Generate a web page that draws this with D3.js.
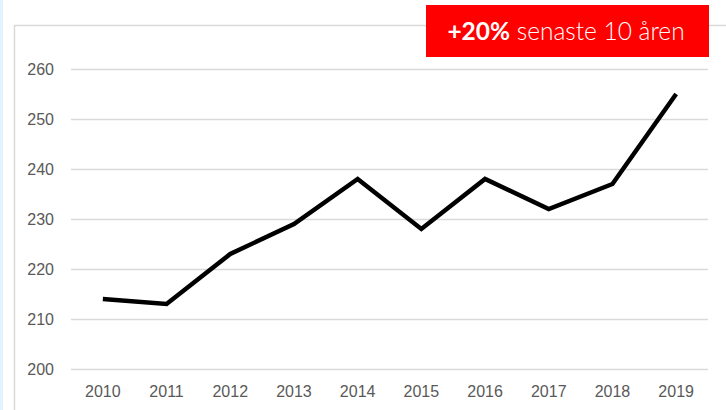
<!DOCTYPE html>
<html>
<head>
<meta charset="utf-8">
<script src="https://cdn.jsdelivr.net/npm/d3@7"></script>
<style>
  body { margin: 0; background: #fff; }
  .tick text { font-family: "Liberation Sans", Arial, sans-serif; fill: #595959; }
</style>
</head>
<body>
<div id="chart"></div>
<script>
var years = ["2010", "2011", "2012", "2013", "2014", "2015", "2016", "2017", "2018", "2019"];
var values = [214, 213, 223, 229, 238, 228, 238, 232, 237, 255];
var yTicks = [200, 210, 220, 230, 240, 250, 260];
var badgeBold = "+20%";
var badgeText = " senaste 10 åren";

var svgWidth = 726;
var svgHeight = 410;

var svg = d3.select("#chart")
  .append("svg")
  .attr("width", svgWidth)
  .attr("height", svgHeight);

// light blue strip on the left and the chart frame
svg.append("rect")
  .attr("x", 0).attr("y", 0)
  .attr("width", 3).attr("height", svgHeight)
  .attr("fill", "#e3f3fd");

svg.append("rect")
  .attr("x", 14.5).attr("y", 25.5)
  .attr("width", 740).attr("height", 420)
  .attr("fill", "#fff")
  .attr("stroke", "#d9d9d9")
  .attr("stroke-width", 1.5);

var plotLeft = 71, plotRight = 708;

var x = d3.scaleBand()
  .domain(years)
  .range([plotLeft, plotRight]);

var y = d3.scaleLinear()
  .domain([200, 260])
  .range([369, 69]);

// gridlines + y labels
var yAxis = d3.axisLeft(y)
  .tickValues(yTicks)
  .tickSize(-(plotRight - plotLeft))
  .tickPadding(17)
  .tickFormat(d3.format("d"));

var yg = svg.append("g")
  .attr("transform", `translate(${plotLeft},0)`)
  .call(yAxis);
yg.select(".domain").remove();
yg.selectAll(".tick line").attr("stroke", "#d9d9d9").attr("stroke-width", 1.3);
yg.selectAll(".tick text").style("font-size", "16px");

// x labels
var xAxis = d3.axisBottom(x).tickSize(0).tickPadding(17);
var xg = svg.append("g")
  .attr("transform", "translate(0,369)")
  .call(xAxis);
xg.select(".domain").remove();
xg.selectAll(".tick text").style("font-size", "16px");

// the line
var line = d3.line()
  .x((d, i) => x(years[i]) + x.bandwidth() / 2)
  .y(d => y(d));

svg.append("path")
  .datum(values)
  .attr("d", line)
  .attr("fill", "none")
  .attr("stroke", "#000")
  .attr("stroke-width", 4.5)
  .attr("stroke-linejoin", "miter");

// red badge
svg.append("rect")
  .attr("x", 426).attr("y", 5)
  .attr("width", 283).attr("height", 52)
  .attr("fill", "#ff0000");

var t = svg.append("text")
  .attr("x", 566)
  .attr("y", 40)
  .attr("text-anchor", "middle")
  .attr("fill", "#fff")
  .style("font-family", "Lato, 'Open Sans', sans-serif")
  .style("font-size", "24.5px");
t.append("tspan").style("font-weight", 700).text(badgeBold);
t.append("tspan").style("font-weight", 300).text(badgeText);
</script>
</body>
</html>
